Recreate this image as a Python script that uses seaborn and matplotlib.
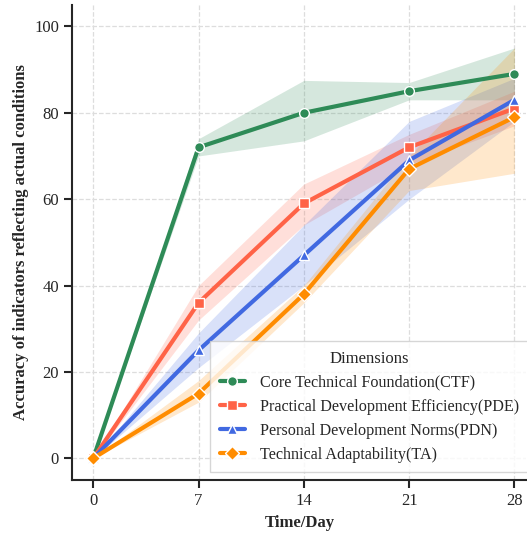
import matplotlib
matplotlib.use('AGG')

import matplotlib.pyplot as plt
import seaborn as sns
import pandas as pd

days = [0, 7, 14, 21, 28]
names = ['Core Technical Foundation(CTF)',
         'Practical Development Efficiency(PDE)',
         'Personal Development Norms(PDN)',
         'Technical Adaptability(TA)']

# middle values and band limits
ctf = [0, 72, 80, 85, 89]
ctf_lo = [0, 70, 73.5, 83, 83]
ctf_hi = [0, 74, 87.5, 87, 95]

pde = [0, 36, 59, 72, 81]
pde_lo = [0, 32, 54, 68, 77]
pde_hi = [0, 40, 63.5, 75, 85]

pdn = [0, 25, 47, 69, 83]
pdn_lo = [0, 21, 40, 60, 78]
pdn_hi = [0, 29, 54, 78, 88]

ta = [0, 15, 38, 67, 79]
ta_lo = [0, 13, 36, 62, 66]
ta_hi = [0, 18, 40, 70, 95]

colors = ['#2E8B57', '#FF6347', '#4169E1', '#FF8C00']
markers = ['o', 's', '^', 'D']

rows = []
for name, series in zip(names, [(ctf, ctf_lo, ctf_hi), (pde, pde_lo, pde_hi),
                                (pdn, pdn_lo, pdn_hi), (ta, ta_lo, ta_hi)]):
    for vals in series:
        for d, v in zip(days, vals):
            rows.append({'day': d, 'value': v, 'dim': name})
df = pd.DataFrame(rows)

sns.set_style('ticks')
plt.rcParams['font.family'] = ['Liberation Serif', 'DejaVu Serif']

fig = plt.figure(figsize=(5.27, 5.35), dpi=100)
ax = fig.add_axes([0.137, 0.103, 0.862, 0.888])

sns.lineplot(data=df, x='day', y='value', hue='dim', style='dim',
             palette=colors, markers=markers, dashes=False,
             estimator='median', errorbar=('pi', 100),
             err_kws={'alpha': 0.2, 'linewidth': 0},
             linewidth=3, markersize=7, markeredgecolor='white',
             markeredgewidth=1.0, ax=ax)

ax.set_xlim(-1.4, 28.8)
ax.set_ylim(-5, 105)
ax.set_xticks(days)
ax.set_yticks([0, 20, 40, 60, 80, 100])
ax.grid(True, linestyle='--', color='#dddddd', linewidth=0.9)
ax.tick_params(labelsize=12, width=1.5, length=6)
for s in ['left', 'bottom']:
    ax.spines[s].set_linewidth(1.5)
sns.despine(ax=ax)

ax.set_xlabel('Time/Day', fontsize=12, fontweight='bold')
ax.set_ylabel('Accuracy of indicators reflecting actual conditions',
              fontsize=12, fontweight='bold')

leg = ax.legend(title='Dimensions', loc='lower right', fontsize=11.6,
                title_fontsize=12, frameon=True, fancybox=False,
                bbox_to_anchor=(1.003, 0.117), bbox_transform=fig.transFigure,
                borderaxespad=0, handlelength=1.6, handletextpad=0.9,
                labelspacing=0.5, borderpad=0.6)
leg.get_frame().set_edgecolor('#cccccc')

fig.savefig('out.png', dpi=100)
